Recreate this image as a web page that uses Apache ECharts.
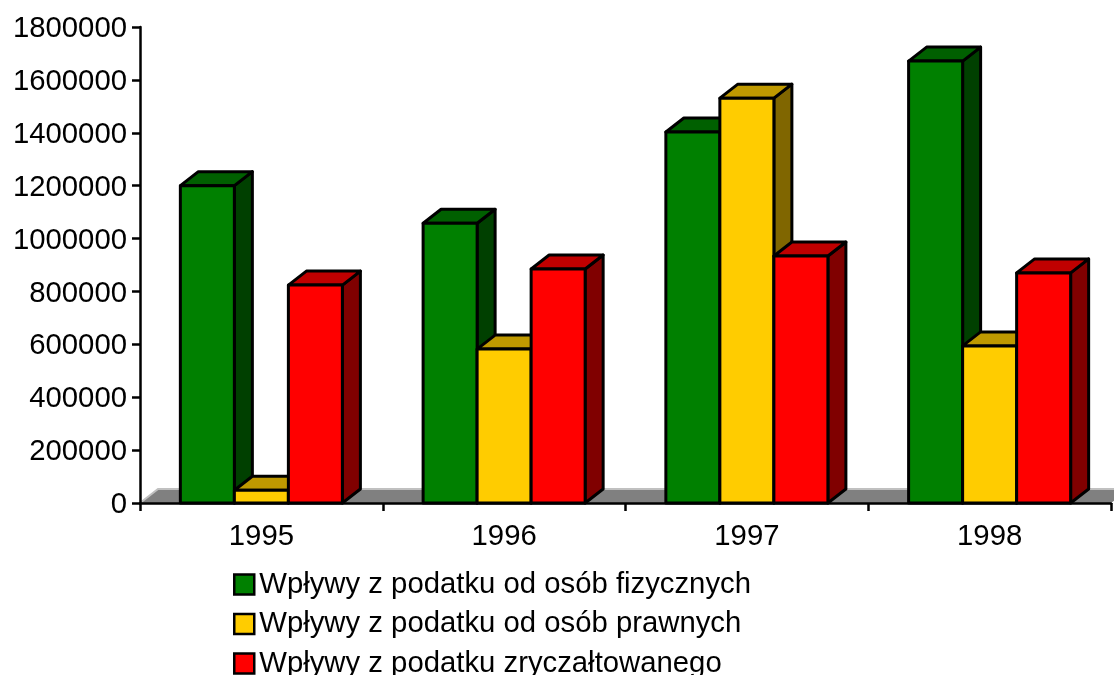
<!DOCTYPE html>
<html><head><meta charset="utf-8">
<style>html,body{margin:0;padding:0;background:#fff;overflow:hidden}#c{width:1114px;height:675px}</style>
<script src="https://cdn.jsdelivr.net/npm/echarts@6/dist/echarts.min.js"></script>
</head><body><div id="c"></div>
<script>
const categories = ['1995','1996','1997','1998'];
const seriesNames = ['Wpływy z podatku od osób fizycznych','Wpływy z podatku od osób prawnych','Wpływy z podatku zryczałtowanego'];
const fizyczne = [1200000,1058000,1403000,1671000];
const prawne = [48000,582000,1531000,594000];
const zryczaltowane = [824000,885000,934000,870000];
const yTicks = {min:0,max:1800000,interval:200000};

const DX=18, DY=14, SW=3;
const palette=[
 {front:'#008000',top:'#006000',side:'#004000'},
 {front:'#FFCC00',top:'#BF9900',side:'#806600'},
 {front:'#FF0000',top:'#C00000',side:'#800000'}
];
function poly(points,fill,stroke){
  return {type:'polygon',shape:{points},style:{fill,stroke:stroke===undefined?'#000':stroke,lineWidth:SW,lineJoin:'round'}};
}
function barItem(si){
  return function(params,api){
    const cat=api.value(0), val=api.value(1);
    const band=api.size([1,0])[0], w=band*0.2225;
    const top=api.coord([cat,val]), base=api.coord([cat,0]);
    const l=top[0]+(si-1.5)*w, r=l+w, t=top[1], b=base[1];
    const c=palette[si];
    return {type:'group',children:[
      poly([[r,t],[r+DX,t-DY],[r+DX,b-DY],[r,b]],c.side),
      poly([[l,t],[l+DX,t-DY],[r+DX,t-DY],[r,t]],c.top),
      poly([[l,t],[r,t],[r,b],[l,b]],c.front)
    ]};
  };
}
function floorItem(params,api){
  const s=params.coordSys, b=s.y+s.height, l=s.x, r=s.x+s.width;
  return {type:'group',children:[
    {type:'polygon',shape:{points:[[l,b],[l+DX,b-DY],[r+DX,b-DY],[r,b]]},style:{fill:'#808080',stroke:null}},
    {type:'polyline',shape:{points:[[l,b],[l+DX,b-DY],[r+DX,b-DY]]},style:{fill:null,stroke:'#C0C0C0',lineWidth:2}}
  ]};
}
const font={fontFamily:'"Liberation Sans",Arial,sans-serif',fontSize:29.3,color:'#000'};
const chart=echarts.init(document.getElementById('c'),null,{renderer:'canvas'});
const vals=[fizyczne,prawne,zryczaltowane];
chart.setOption({
  animation:false,
  backgroundColor:'#fff',
  grid:{left:140,right:3,top:27,bottom:172,containLabel:false},
  legend:{
    orient:'vertical',left:233,top:570,height:200,selectedMode:false,
    data:seriesNames,icon:'rect',itemWidth:20,itemHeight:20,itemGap:10.5,
    itemStyle:{borderColor:'#000',borderWidth:2.5},
    textStyle:{...font,padding:[3,0,0,0]},padding:0
  },
  xAxis:{type:'category',data:categories,z:10,
    axisLine:{lineStyle:{color:'#000',width:2.5}},
    axisTick:{show:true,alignWithLabel:false,length:8,lineStyle:{color:'#000',width:2.5}},
    axisLabel:{...font,margin:19,interval:0}},
  yAxis:{type:'value',min:yTicks.min,max:yTicks.max,interval:yTicks.interval,z:10,
    axisLine:{show:true,lineStyle:{color:'#000',width:2.5}},
    axisTick:{show:true,length:8,lineStyle:{color:'#000',width:2.5}},
    splitLine:{show:false},
    axisLabel:{...font,margin:13,verticalAlign:'top',lineHeight:4,formatter:v=>String(v)}},
  series:[
    {type:'custom',name:'floor',silent:true,clip:false,z:1,renderItem:floorItem,data:[[0,0]],encode:{x:0,y:1}},
    ...seriesNames.map((n,i)=>({
      type:'custom',name:n,clip:false,z:3+i,renderItem:barItem(i),
      itemStyle:{color:palette[i].front},
      data:categories.map((c,k)=>[k,vals[i][k]]),encode:{x:0,y:1}
    }))
  ]
});
</script></body></html>
